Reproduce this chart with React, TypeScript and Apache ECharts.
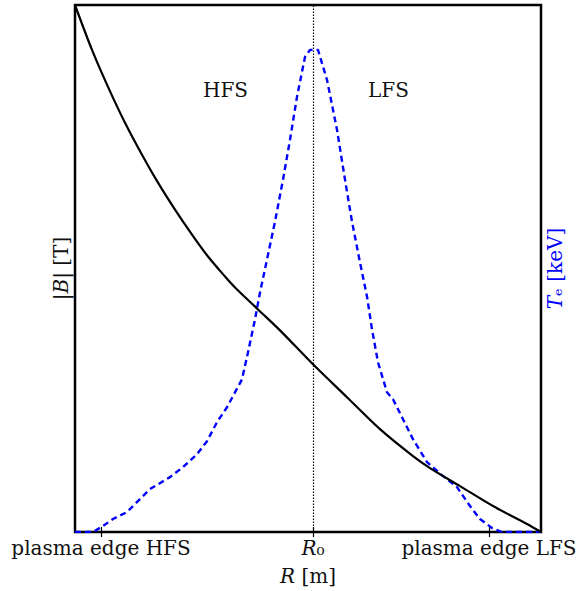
import React, { useEffect, useRef } from "react";
import * as echarts from "echarts";

// R positions (arbitrary units along the major radius)
const R_MIN = 0;
const R_MAX = 4.66;
const Y_MAX = 5.28;
const R_HFS_EDGE = 0.26;
const R_0 = 2.38;
const R_LFS_EDGE = 4.14;

const tickValues = [R_HFS_EDGE, R_0, R_LFS_EDGE];
const tickLabels = ["plasma edge HFS", "{i|R}{n|₀}", "plasma edge LFS"];

// |B| profile
const bR = [0, 0.17, 0.33, 0.5, 0.67, 0.83, 1.0, 1.17, 1.33, 1.5, 1.6, 1.83, 2.05, 2.38, 2.72, 3.05, 3.38, 3.55, 3.85, 4.18, 4.52, 4.66];
const bVal = [5.28, 4.83, 4.46, 4.1, 3.78, 3.5, 3.23, 2.98, 2.76, 2.56, 2.45, 2.23, 2.02, 1.68, 1.35, 1.03, 0.76, 0.64, 0.46, 0.26, 0.08, 0];

// Te profile
const teR = [0, 0.18, 0.28, 0.38, 0.52, 0.65, 0.75, 0.95, 1.08, 1.22, 1.32, 1.42, 1.52, 1.67, 1.73, 1.8, 1.85, 1.92, 2.0, 2.08, 2.15, 2.22, 2.3, 2.35, 2.43, 2.52, 2.62, 2.7, 2.77, 2.85, 2.92, 2.97, 3.03, 3.12, 3.18, 3.28, 3.38, 3.52, 3.68, 3.82, 3.95, 4.05, 4.17, 4.27, 4.66];
const teVal = [0, 0, 0.06, 0.13, 0.2, 0.33, 0.43, 0.55, 0.65, 0.78, 0.91, 1.1, 1.25, 1.53, 1.8, 2.13, 2.4, 2.73, 3.11, 3.53, 3.93, 4.36, 4.76, 4.83, 4.83, 4.53, 4.03, 3.53, 3.11, 2.7, 2.36, 2.03, 1.7, 1.4, 1.33, 1.13, 0.93, 0.7, 0.56, 0.45, 0.26, 0.13, 0.04, 0, 0];

const FONT = "DejaVu Serif";
const TXT = "#111";

export default function App() {
  const ref = useRef<HTMLDivElement>(null);
  useEffect(() => {
    document.body.style.margin = "0";
    if (!ref.current) return;
    const chart = echarts.init(ref.current, undefined, { renderer: "svg" });
    const rich = {
      i: { fontFamily: FONT, fontSize: 20, fontStyle: "italic" as const, color: TXT },
      n: { fontFamily: FONT, fontSize: 20, color: TXT },
      b: { fontFamily: FONT, fontSize: 20, color: "#0000ff", fontStyle: "italic" as const },
      bn: { fontFamily: FONT, fontSize: 20, color: "#0000ff" },
    };
    chart.setOption({
      animation: false,
      grid: {
        left: 75,
        right: 46,
        top: 5,
        bottom: 58,
        show: true,
        borderColor: "#000",
        borderWidth: 2.5,
        backgroundColor: "transparent",
      },
      xAxis: [
        {
          type: "value",
          min: R_MIN,
          max: R_MAX,
          position: "bottom",
          axisLine: { show: false },
          splitLine: { show: false },
          axisTick: {
            show: true,
            inside: true,
            length: 5,
            lineStyle: { color: "#000", width: 1.2 },
            customValues: tickValues,
          },
          axisLabel: {
            show: true,
            customValues: tickValues,
            formatter: (v: number) => {
              const idx = tickValues.findIndex((t) => Math.abs(t - v) < 1e-6);
              return idx >= 0 ? tickLabels[idx] : "";
            },
            fontFamily: FONT,
            fontSize: 20,
            color: TXT,
            margin: 6,
            rich,
          },
          name: "{i|R} [m]",
          nameLocation: "middle",
          nameGap: 34,
          nameTextStyle: { fontFamily: FONT, fontSize: 20, color: TXT, rich },
        },
        {
          type: "value",
          min: R_MIN,
          max: R_MAX,
          position: "top",
          axisLine: { show: false },
          splitLine: { show: false },
          axisTick: {
            show: true,
            inside: true,
            length: 5,
            lineStyle: { color: "#000", width: 1.2 },
            customValues: tickValues,
          },
          axisLabel: { show: false },
        },
      ],
      yAxis: [
        {
          type: "value",
          min: 0,
          max: Y_MAX,
          position: "left",
          axisLine: { show: false },
          axisTick: { show: false },
          axisLabel: { show: false },
          splitLine: { show: false },
          name: "|{i|B}| [T]",
          nameLocation: "middle",
          nameRotate: 90,
          nameGap: 4,
          nameTextStyle: { fontFamily: FONT, fontSize: 20, color: TXT, rich },
        },
        {
          type: "value",
          min: 0,
          max: Y_MAX,
          position: "right",
          axisLine: { show: false },
          axisTick: { show: false },
          axisLabel: { show: false },
          splitLine: { show: false },
          name: "{b|T}{bn|ₑ [keV]}",
          nameLocation: "middle",
          nameRotate: 90,
          nameGap: 4,
          nameTextStyle: { fontFamily: FONT, fontSize: 20, color: "#0000ff", rich },
        },
      ],
      graphic: [
        {
          type: "text",
          left: 203,
          top: 80,
          style: { text: "HFS", fontFamily: FONT, fontSize: 20, fill: TXT },
        },
        {
          type: "text",
          left: 368,
          top: 80,
          style: { text: "LFS", fontFamily: FONT, fontSize: 20, fill: TXT },
        },
      ],
      series: [
        {
          type: "line",
          xAxisIndex: 0,
          yAxisIndex: 0,
          data: bR.map((r, i) => [r, bVal[i]]),
          showSymbol: false,
          smooth: 0.3,
          lineStyle: { color: "#000", width: 2.2 },
          z: 3,
          markLine: {
            silent: true,
            symbol: "none",
            label: { show: false },
            lineStyle: { color: "#000", type: [1.5, 1.5], width: 1.2 },
            data: [{ xAxis: R_0 }],
          },
        },
        {
          type: "line",
          xAxisIndex: 0,
          yAxisIndex: 1,
          data: teR.map((r, i) => [r, teVal[i]]),
          showSymbol: false,
          lineStyle: { color: "#0000ff", width: 2.4, type: [6, 4] },
          z: 2,
        },
      ],
    });
    return () => chart.dispose();
  }, []);
  return <div ref={ref} style={{ width: 587, height: 591 }} />;
}
